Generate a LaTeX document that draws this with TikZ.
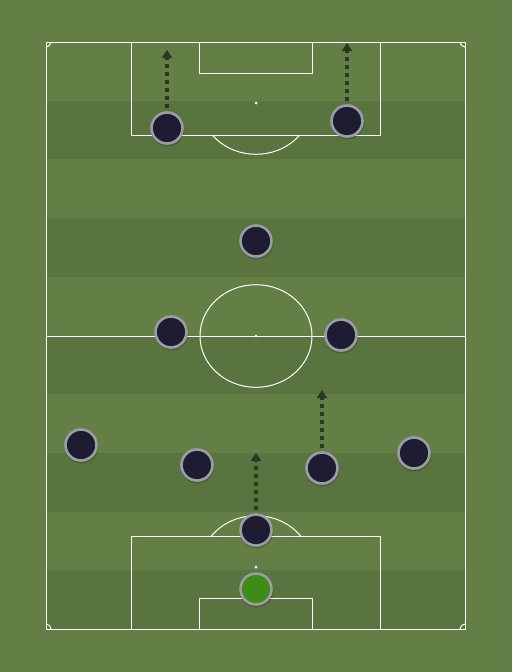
\documentclass[tikz,border=0pt]{standalone}
\usetikzlibrary{arrows.meta}
\definecolor{grassL}{HTML}{637F45}
\definecolor{grassD}{HTML}{5A7440}
\definecolor{navy}{HTML}{1E1C33}
\definecolor{ring}{HTML}{9A9CA6}
\definecolor{keeper}{HTML}{3D8C14}
\definecolor{runc}{HTML}{2A3820}
\begin{document}
\begin{tikzpicture}[x=1pt,y=-1pt,
  pline/.style={draw=white,line width=1pt},
  player/.style={circle,fill=navy,draw=ring,line width=2.6pt,minimum size=31pt,inner sep=0pt},
  gk/.style={player,fill=keeper},
  shadowc/.style={circle,fill=black,opacity=0.18,minimum size=34pt,inner sep=0pt},
  runarrow/.style={draw=runc,line width=3.2pt,dash pattern=on 4.5pt off 3.5pt,-{Triangle[width=10pt,length=8pt]},shorten <=3pt}]
\useasboundingbox (0,0) rectangle (512,672);
\fill[grassL] (0,0) rectangle (512,672);
% stripes
\foreach \i in {1,3,5,7,9}{
  \fill[grassD] (46,{42+\i*58.7}) rectangle (465,{42+(\i+1)*58.7});
}
% pitch lines
\draw[pline] (46,42) rectangle (465,629);
\draw[pline] (46,336) -- (465,336);
\draw[pline] (256,336) ellipse (56 and 51.3);
\fill[white] (256,336) circle (1.5);
% top
\draw[pline] (131,42) -- (131,135) -- (380,135) -- (380,42);
\draw[pline] (199,42) -- (199,73) -- (312,73) -- (312,42);
\fill[white] (256,103) circle (1.5);
\begin{scope}
\clip (100,135) rectangle (412,200);
\draw[pline] (256,103) ellipse (56 and 51.3);
\end{scope}
% bottom
\draw[pline] (131,629) -- (131,536) -- (380,536) -- (380,629);
\draw[pline] (199,629) -- (199,598) -- (312,598) -- (312,629);
\fill[white] (256,567) circle (1.5);
\begin{scope}
\clip (100,470) rectangle (412,536);
\draw[pline] (256,567) ellipse (56 and 51.3);
\end{scope}
% corners
\begin{scope}
\clip (46,42) rectangle (465,629);
\draw[pline] (46,42) circle (5);
\draw[pline] (465,42) circle (5);
\draw[pline] (46,629) circle (5);
\draw[pline] (465,629) circle (5);
\end{scope}
% run targets
\coordinate (t1) at (167,50);
\coordinate (t2) at (347,43);
\coordinate (t8) at (322,390);
\coordinate (t10) at (256,453);
% shadows
\foreach \x/\y in {167/128,347/121,256/241,171/332,341/335,81/445,197/465,322/468,414/453,256/530,256/589}{
  \node[shadowc] at (\x+0.5,\y+1.5) {};
}
% players
\node[player] (p1) at (167,128) {};
\node[player] (p2) at (347,121) {};
\node[player] (p3) at (256,241) {};
\node[player] (p4) at (171,332) {};
\node[player] (p5) at (341,335) {};
\node[player] (p6) at (81,445) {};
\node[player] (p7) at (197,465) {};
\node[player] (p8) at (322,468) {};
\node[player] (p9) at (414,453) {};
\node[player] (p10) at (256,530) {};
\node[gk] (p11) at (256,589) {};
% runs
\draw[runarrow] (p1.north) -- (t1);
\draw[runarrow] (p2.north) -- (t2);
\draw[runarrow] (p8.north) -- (t8);
\draw[runarrow] (p10.north) -- (t10);
\end{tikzpicture}
\end{document}
